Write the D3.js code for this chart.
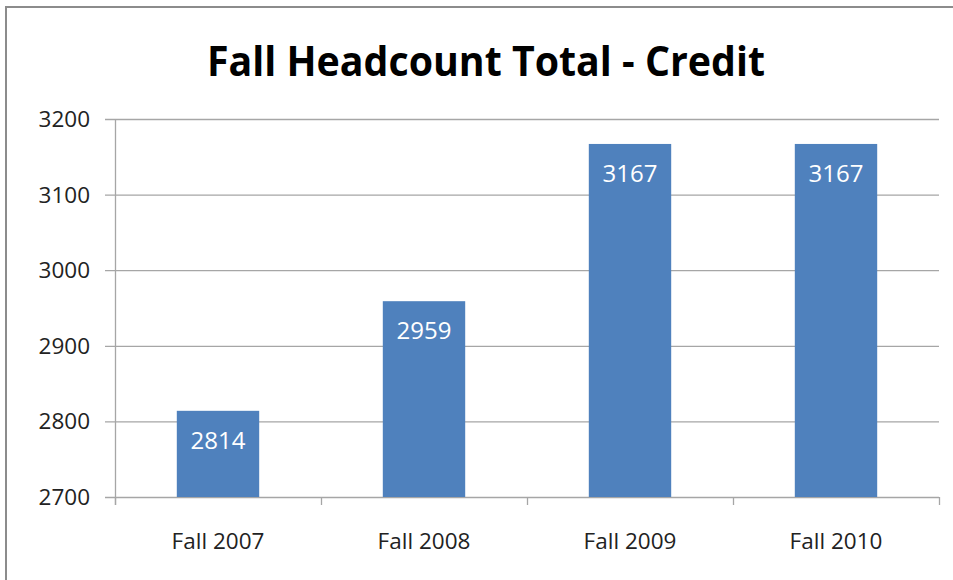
<!DOCTYPE html>
<html>
<head>
<meta charset="utf-8">
<script src="https://cdn.jsdelivr.net/npm/d3@7"></script>
<style>
  html, body { margin: 0; padding: 0; background: #fff; }
  svg { display: block; }
  text { font-family: "Open Sans", "Liberation Sans", sans-serif; }
</style>
</head>
<body>
<svg id="chart" width="953" height="580"></svg>
<script>
const title = "Fall Headcount Total - Credit";
const categories = ["Fall 2007", "Fall 2008", "Fall 2009", "Fall 2010"];
const values = [2814, 2959, 3167, 3167];
const yTicks = [2700, 2800, 2900, 3000, 3100, 3200];

const svg = d3.select("#chart");
const W = 953, H = 580;
const plot = { left: 115, right: 939, top: 119, bottom: 497 };

// outer frame (extends beyond right/bottom edges)
svg.append("rect")
  .attr("x", 6).attr("y", 7)
  .attr("width", W + 20).attr("height", H + 20)
  .attr("fill", "#fff")
  .attr("stroke", "#8c8c8c")
  .attr("stroke-width", 2);

const x = d3.scaleBand()
  .domain(categories)
  .range([plot.left, plot.right])
  .paddingInner(0.6)
  .paddingOuter(0.3);

const xOuter = d3.scaleBand().domain(categories).range([plot.left, plot.right]);

const y = d3.scaleLinear().domain([2700, 3200]).range([plot.bottom, plot.top]);

// gridlines
svg.append("g")
  .selectAll("line")
  .data(yTicks)
  .join("line")
  .attr("x1", plot.left - 10)
  .attr("x2", plot.right)
  .attr("y1", d => y(d) + 0.5)
  .attr("y2", d => y(d) + 0.5)
  .attr("stroke", "#a6a6a6")
  .attr("stroke-width", 1.3);

// y axis line
svg.append("line")
  .attr("x1", plot.left + 0.5).attr("x2", plot.left + 0.5)
  .attr("y1", plot.top).attr("y2", plot.bottom + 8)
  .attr("stroke", "#a6a6a6").attr("stroke-width", 1.3);

// x tick marks
const xTickPos = categories.map(c => xOuter(c)).concat([plot.right]);
svg.append("g")
  .selectAll("line")
  .data(xTickPos)
  .join("line")
  .attr("x1", d => d + 0.5).attr("x2", d => d + 0.5)
  .attr("y1", plot.bottom).attr("y2", plot.bottom + 8)
  .attr("stroke", "#a6a6a6").attr("stroke-width", 1.3);

// y tick labels
svg.append("g")
  .selectAll("text")
  .data(yTicks)
  .join("text")
  .attr("x", 90)
  .attr("y", d => y(d) + 8)
  .attr("text-anchor", "end")
  .attr("font-size", 22.5)
  .attr("fill", "#222")
  .text(d => d);

// bars
svg.append("g")
  .selectAll("rect")
  .data(values)
  .join("rect")
  .attr("x", (d, i) => x(categories[i]))
  .attr("y", d => y(d))
  .attr("width", x.bandwidth())
  .attr("height", d => y(2700) - y(d))
  .attr("fill", "#4f81bd");

// value labels
svg.append("g")
  .selectAll("text")
  .data(values)
  .join("text")
  .attr("x", (d, i) => x(categories[i]) + x.bandwidth() / 2)
  .attr("y", d => y(d) + 38)
  .attr("text-anchor", "middle")
  .attr("font-size", 24)
  .attr("fill", "#fff")
  .text(d => d);

// x labels
svg.append("g")
  .selectAll("text")
  .data(categories)
  .join("text")
  .attr("x", c => xOuter(c) + xOuter.bandwidth() / 2)
  .attr("y", 549)
  .attr("text-anchor", "middle")
  .attr("font-size", 22.5)
  .attr("fill", "#222")
  .text(c => c);

// title
svg.append("text")
  .attr("x", 486)
  .attr("y", 76)
  .attr("text-anchor", "middle")
  .attr("font-size", 41)
  .attr("font-weight", "bold")
  .attr("fill", "#000")
  .attr("textLength", 558)
  .attr("lengthAdjust", "spacingAndGlyphs")
  .text(title);
</script>
</body>
</html>
